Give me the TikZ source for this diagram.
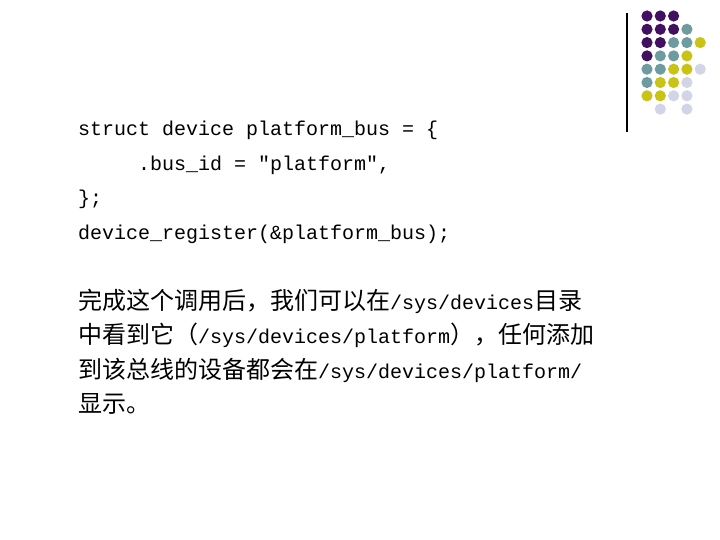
\documentclass[tikz,border=0pt]{standalone}
\usepackage{fontspec}
\setmonofont{Liberation Mono}
\newfontfamily\cjk[Scale=1.2]{Noto Sans CJK SC}
\definecolor{P}{RGB}{66,16,96}
\definecolor{T}{RGB}{110,155,160}
\definecolor{Y}{RGB}{200,195,20}
\definecolor{L}{RGB}{210,212,232}
\definecolor{N}{RGB}{255,255,255}
\begin{document}
\begin{tikzpicture}[x=1bp,y=-1bp,
  txt/.style={anchor=base west,inner sep=0pt,font=\ttfamily\fontsize{20bp}{24bp}\selectfont}]
\useasboundingbox[fill=white](0,0) rectangle (720,540);
\draw[line width=1.2bp] (627,13) -- (627,132);
\foreach \row [count=\r] in {{P,P,P},{P,P,P,T},{P,P,T,T,Y},{P,T,T,Y},{T,T,Y,Y,L},{T,Y,Y,L},{Y,Y,L,L},{N,L,N,L}}{
  \foreach \c [count=\k] in \row {
    \pgfmathsetmacro{\xx}{647+13.3*(\k-1)}
    \pgfmathsetmacro{\yy}{16+13.3*(\r-1)}
    \fill[\c] (\xx,\yy) circle (5.6bp);
  }
}
\node[txt] (l1) at (78,136) {struct device platform\_bus = \{};
\node[txt] (l2) at (78,171) {\hspace{60bp}.bus\_id = "platform",};
\node[txt] (l3) at (78,205) {\};};
\node[txt] (l4) at (78,240) {device\_register(\&platform\_bus);};
\node[txt] (l5) at (78,309) {{\cjk 完成这个调用后，我们可以在}/sys/devices{\cjk 目录}};
\node[txt] (l6) at (78,343) {{\cjk 中看到它（}/sys/devices/platform{\cjk ），任何添加}};
\node[txt] (l7) at (78,378) {{\cjk 到该总线的设备都会在}/sys/devices/platform/};
\node[txt] (l8) at (78,412) {{\cjk 显示。}};
\end{tikzpicture}
\end{document}
